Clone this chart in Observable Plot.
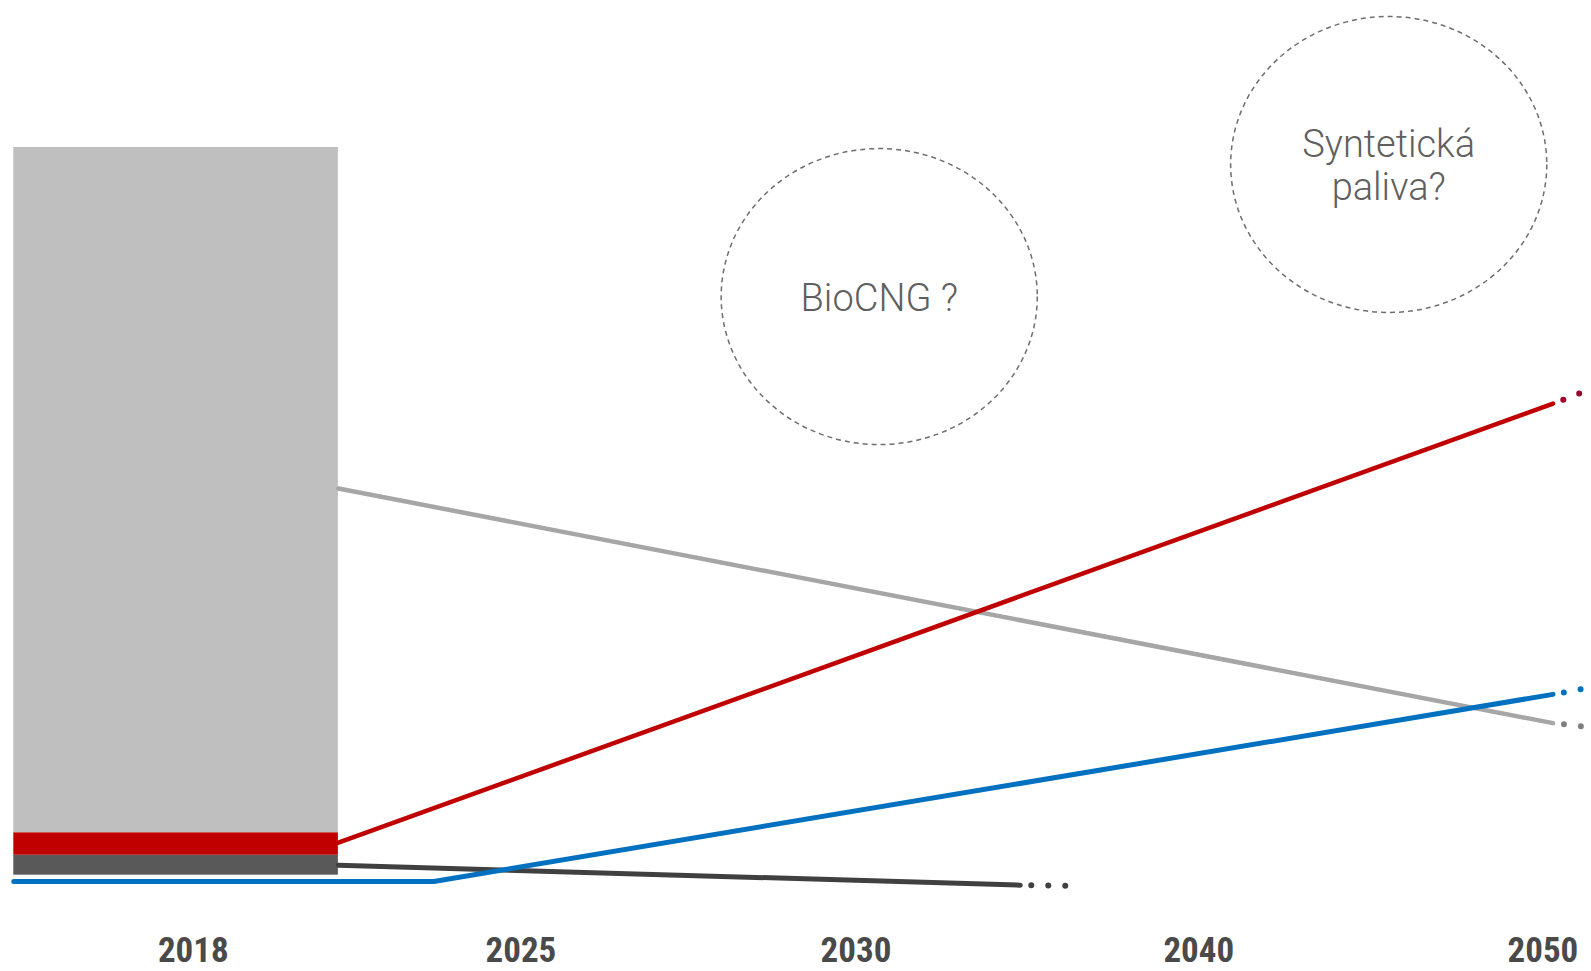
<!DOCTYPE html>
<html>
<head>
<meta charset="utf-8">
<script src="https://cdn.jsdelivr.net/npm/d3@7"></script>
<script src="https://cdn.jsdelivr.net/npm/@observablehq/plot@0.6"></script>
<style>
  html, body { margin: 0; padding: 0; background: #fff; }
  #chart svg { display: block; }
</style>
</head>
<body>
<div id="chart"></div>
<script>
// Tick labels and where they sit on the (schematic) x axis
const years = ["2018", "2025", "2030", "2040", "2050"];
const yearPos = [0, 0.971, 1.964, 2.98, 4];

// 2018 stacked bar segments (share, bottom -> top)
const barSegments = ["Nafta (stará)", "Elektro", "Ostatní"];
const barX1 = [-0.532, -0.532, -0.532];
const barX2 = [0.430, 0.430, 0.430];
const barY1 = [1.4, 4.1, 7.15];
const barY2 = [4.1, 7.15, 100];
const barColors = ["#595959", "#c00000", "#bfbfbf"];

// Trend lines: solid part x/y values
const grayX = [0.430, 4.030];
const grayY = [53.8, 22.0];
const redX = [0.430, 4.030];
const redY = [5.8, 65.3];
const blueX = [-0.532, 0.713, 4.030];
const blueY = [0.55, 0.55, 25.9];
const darkX = [0.430, 2.451];
const darkY = [2.75, 0.05];

// Dotted continuations
const grayDotX = [4.030, 4.150];
const grayDotY = [22.0, 21.4];
const redDotX = [4.030, 4.150];
const redDotY = [65.3, 67.4];
const blueDotX = [4.030, 4.150];
const blueDotY = [25.9, 26.9];
const darkDotX = [2.451, 2.600];
const darkDotY = [0.05, -0.05];

// Annotation bubbles
const bubbleText = ["BioCNG ?", "Syntetická\npaliva?"];
const bubbleX = [2.033, 3.543];
const bubbleY = [79.8, 97.7];

const bars = barSegments.map((s, i) => ({s, x1: barX1[i], x2: barX2[i], y1: barY1[i], y2: barY2[i], c: barColors[i]}));
const pts = (xs, ys) => xs.map((x, i) => ({x, y: ys[i]}));
const bubbles = bubbleText.map((t, i) => ({t, x: bubbleX[i], y: bubbleY[i]}));

const W = 1591, H = 971;
const x0 = 192.8, step = 337.4;   // pixel of first tick, pixels per tick unit
const dotted = (data, color, w) => Plot.line(data, {x: "x", y: "y", stroke: color, strokeWidth: w,
  strokeDasharray: "0 17", strokeDashoffset: -11, strokeLinecap: "round"});

const chart = Plot.plot({
  width: W,
  height: H,
  marginLeft: 0,
  marginRight: 0,
  marginTop: 147,
  marginBottom: 86,
  x: {type: "linear", domain: [-x0 / step, (W - x0) / step], axis: null},
  y: {type: "linear", domain: [0, 100], axis: null},
  style: {background: "#fff"},
  marks: [
    Plot.rect(bars, {x1: "x1", x2: "x2", y1: "y1", y2: "y2", fill: "c"}),
    Plot.line(pts(grayX, grayY), {x: "x", y: "y", stroke: "#a6a6a6", strokeWidth: 4.5}),
    dotted(pts(grayDotX, grayDotY), "#7f7f7f", 6),
    Plot.line(pts(darkX, darkY), {x: "x", y: "y", stroke: "#404040", strokeWidth: 5}),
    dotted(pts(darkDotX, darkDotY), "#404040", 6),
    Plot.line(pts(blueX, blueY), {x: "x", y: "y", stroke: "#0070c0", strokeWidth: 5}),
    dotted(pts(blueDotX, blueDotY), "#0070c0", 6),
    Plot.line(pts(redX, redY), {x: "x", y: "y", stroke: "#c00000", strokeWidth: 4.5}),
    dotted(pts(redDotX, redDotY), "#a0002a", 6),
    Plot.dot(bubbles, {x: "x", y: "y", r: 148, stroke: "#6e6e6e", strokeWidth: 1.5, strokeDasharray: "5 4", fill: "none", className: "bubble"}),
    Plot.text(bubbles, {x: "x", y: "y", text: "t", fontSize: 38, fill: "#5f5f5f", fontFamily: "Roboto", fontWeight: 300, lineHeight: 1.15, lineAnchor: "middle"}),
    Plot.axisX({ticks: yearPos, tickFormat: (d, i) => years[i], tickSize: 0, tickPadding: 52,
      fontSize: 35, fontWeight: "bold", fontFamily: "Liberation Sans Narrow, Roboto Condensed, Roboto, sans-serif", fill: "#4a4a4a", label: null})
  ]
});
// stretch the bubbles horizontally into the slightly wide ellipses of the original
chart.querySelectorAll(".bubble circle").forEach(c => {
  const cx = +c.getAttribute("cx"), cy = +c.getAttribute("cy");
  if (!isNaN(cx) && !isNaN(cy)) {
    c.setAttribute("transform", `translate(${cx},${cy}) scale(1.068,1) translate(${-cx},${-cy})`);
    c.setAttribute("vector-effect", "non-scaling-stroke");
  }
});
document.getElementById("chart").appendChild(chart);
</script>
</body>
</html>
